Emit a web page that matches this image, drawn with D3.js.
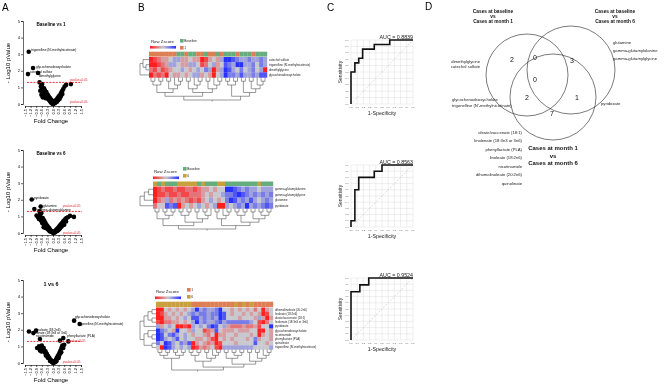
<!DOCTYPE html>
<html>
<head>
<meta charset="utf-8">
<script src="https://cdn.jsdelivr.net/npm/d3@7"></script>
<style>
body { margin: 0; background: #fff; }
#wrap { position: relative; width: 669px; height: 388px; }
#wrap svg { position: absolute; left: 0; top: 0; }
#textLayer { filter: grayscale(100%); }
svg text { font-family: "Liberation Sans", Arial, sans-serif; }
</style>
</head>
<body>
<div id="wrap"></div>
<script>
// ---------- data ----------

// Panel A: volcano plots (fold change, -log10 p)
var fcTicks = [-1.5, -1.2, -0.9, -0.6, -0.3, 0.0, 0.3, 0.6, 0.9, 1.2, 1.5];
var pTicks = [0, 1, 2, 3, 4, 5];

var fc1 = [-1.3, -1.07, -1.34, -0.8, 0.96, -0.72, -0.65, -0.6, -0.68, -0.55, -0.5, -0.45, -0.4, -0.35, -0.3, -0.25, -0.2, -0.15, -0.1, -0.05, 0.0, 0.05, 0.1, 0.15, 0.2, 0.25, 0.3, 0.35, 0.4, 0.45, 0.5, 0.55, -0.58, -0.48, -0.38, 0.62, 0.7, 0.02, -0.02,
           -0.6, -0.5, -0.42, -0.35, -0.28, -0.22, -0.15, -0.1, -0.3, -0.2, -0.12, -0.06, 0.06, 0.12, 0.18, 0.24, 0.3, 0.1, 0.2, 0.28, 0.36, 0.42, 0.5, -0.4, -0.52, 0.0, 0.08, -0.08, -0.62, -0.55];
var lp1 = [3.15, 2.17, 1.8, 1.87, 1.2, 1.3, 1.05, 0.9, 0.8, 0.7, 0.75, 0.6, 0.55, 0.45, 0.35, 0.3, 0.22, 0.15, 0.08, 0.04, 0.02, 0.04, 0.08, 0.15, 0.22, 0.3, 0.38, 0.5, 0.58, 0.7, 0.8, 0.9, 1.2, 0.95, 0.72, 1.05, 1.15, 0.01, 0.03,
           1.0, 0.9, 0.8, 0.7, 0.55, 0.45, 0.35, 0.25, 0.45, 0.3, 0.15, 0.1, 0.1, 0.15, 0.25, 0.35, 0.45, 0.05, 0.12, 0.22, 0.32, 0.45, 0.6, 0.35, 0.6, 0.08, 0.2, 0.18, 0.55, 0.4];

var fc2 = [-1.14, -1.0, -0.66, -0.72, -0.88, -0.8, -0.7, -0.62, -0.55, -0.5, -0.45, -0.4, -0.35, -0.3, -0.25, -0.2, -0.15, -0.1, -0.05, 0, 0.05, 0.1, 0.15, 0.2, 0.25, 0.3, 0.35, 0.4, 0.45, 0.5, 0.55, 0.6, 0.65, 0.72, 0.8, 0.91, 1.12, -0.58, -0.48, 0.02,
           -0.75, -0.65, -0.55, -0.45, -0.38, -0.3, -0.22, -0.15, -0.4, -0.28, -0.18, -0.08, 0.08, 0.15, 0.22, 0.3, 0.38, 0.45, 0.12, 0.25, 0.35, 0.5, 0.6, -0.5, 0.0, -0.05, 0.7, -0.68];
var lp2 = [2.02, 1.45, 1.59, 1.3, 1.05, 0.95, 1.1, 1.2, 0.9, 0.8, 0.7, 0.6, 0.5, 0.42, 0.35, 0.28, 0.2, 0.12, 0.06, 0.02, 0.05, 0.1, 0.16, 0.22, 0.28, 0.35, 0.42, 0.5, 0.55, 0.62, 0.7, 0.75, 0.82, 0.9, 0.95, 1.03, 0.97, 0.6, 0.45, 0.01,
           0.85, 0.75, 0.65, 0.5, 0.4, 0.3, 0.2, 0.12, 0.3, 0.22, 0.1, 0.08, 0.05, 0.1, 0.12, 0.2, 0.3, 0.38, 0.04, 0.15, 0.25, 0.45, 0.5, 0.35, 0.06, 0.1, 0.7, 1.0];

var fc3 = [1.13, 1.43, -1.29, -1.05, -0.91, -0.7, 0.55, 0.375, 0.82, -0.85, -0.75, -0.68, -0.6, -0.55, -0.5, -0.45, -0.4, -0.35, -0.3, -0.25, -0.2, -0.15, -0.1, -0.05, 0, 0.05, 0.1, 0.15, 0.2, 0.25, 0.3, 0.35, 0.4, 0.45, 0.5, -0.62, -0.5, 0.02,
           -0.58, -0.48, -0.4, -0.33, -0.26, -0.2, -0.12, -0.38, -0.28, -0.16, 0.08, 0.14, 0.2, 0.26, 0.32, 0.38, 0.44, 0.1, 0.18, 0.3, 0.55, -0.08, 0.0, 0.6, -0.7];
var lp3 = [2.55, 2.35, 1.9, 1.8, 1.95, 1.45, 1.5, 1.35, 1.3, 0.9, 1.0, 0.85, 1.05, 0.8, 0.9, 0.65, 0.6, 0.5, 0.42, 0.35, 0.28, 0.2, 0.12, 0.06, 0.02, 0.06, 0.12, 0.2, 0.3, 0.4, 0.5, 0.62, 0.75, 0.9, 1.05, 0.7, 0.72, 0.01,
           0.95, 0.78, 0.7, 0.55, 0.42, 0.3, 0.18, 0.45, 0.32, 0.12, 0.08, 0.15, 0.22, 0.32, 0.42, 0.55, 0.65, 0.04, 0.1, 0.3, 0.9, 0.1, 0.05, 1.1, 0.75];

// Panel B: heatmaps (row z-scores, column groups, names)
var h1Rows = ["catechol sulfate", "trigonelline (N'-methylnicotinate)", "dimethylglycine", "glycochenodeoxycholate"];
var h1Groups = "1111111BB1BB11B11B1BBB1BBB1BBB".split("");
var h1Values = [
  [2, 1.5, 1, 0.5, 0.5, 0, -0.5, -0.5, 0.5, 0.5, 0, 0.5, 0.5, 2, 1.5, 0.5, 0, 0.5, -0.5, -2, -2, -1.5, -1, -0.5, -0.5, -1, -0.5, -0.5, -1, -0.5],
  [2, 2, 1.5, 1, 0.5, -0.5, -0.5, 0, 0.5, 0.5, -0.5, -0.5, 0, 1.5, 1, 0, -0.5, 0.5, 0, -1.5, -1, -0.5, -2, -2, -0.5, -0.5, -1, 0, -1, -0.5],
  [1, 1.5, 0.5, 1.5, 1, 0.5, 0, 0, -0.5, 0, 0.5, 0, -0.5, 0, -1, -0.5, 2, 0.5, -0.5, -2, -1.5, -0.5, 0, -1, 0, -0.5, -1, 0, -0.5, 2],
  [2, 1, 1.5, 1, 2, 0, 0.5, 0.5, 0, 0.5, 0, -0.5, -0.5, 0.5, 0, 0.5, 2, 0, -0.5, -2, -1, -1, -0.5, -1.5, -0.5, -0.5, -1, -0.5, -1.5, -1.5]
];
var h1ColTree = [[[[[0, 1], [2, 3]], [[4, 5], [6, [7, 8]]]], [[[9, 10], [11, [12, 13]]], [[14, 15], [16, [17, 18]]]]],
                 [[[19, 20], [21, 22]], [[23, 24], [[25, 26], [27, [28, 29]]]]]];
var h1RowTree = [[0, [1, 2]], 3];

var h2Rows = ["gamma-glutamylalanine", "gamma-glutamylglycine", "glutamine", "pyridoxate"];
var h2Groups = "6B6BBB66666B6BBB66BBBBBBBB6BBB".split("");
var h2Values = [
  [2, 1.5, 1, 1.5, 1.5, 1, 1.5, 1.5, 1, 1, 1.5, 1, 0.5, 0.5, 0, 0.5, 0, 0, -2, -2, -1.5, -1, -0.5, -1, -0.5, -0.5, 0, -0.5, -0.5, -0.5],
  [2, 1.5, 1.5, 1, 1.5, 1.5, 1, 1.5, 1.5, 1, 1, 1, 0.5, 0, 0.5, 0, 0, -0.5, -1, -1, -1.5, -2, -1.5, -1, -0.5, -1, -0.5, -1, -0.5, -1],
  [2, 1, 0.5, -0.5, 1, 0.5, 1, 0.5, 1, 1.5, 1, 1.5, 0.5, 0, -0.5, 0, 0.5, 0, -1, -2, -1.5, -0.5, -1, -0.5, -1.5, -0.5, 0, -0.5, -1, -0.5],
  [1, 0, 0, -1.5, -1, -1.5, 2, 0.5, 0, 0.5, 0, -0.5, 0, 0.5, 0, -0.5, 2, 2, -0.5, 0, -0.5, -1, -0.5, -2, -0.5, -1, -0.5, -1, -1.5, -1]
];
var h2ColTree = [[[[0, 1], [[2, 3], [4, 5]]], [[[6, 7], [8, 9]], [[10, 11], [[12, 13], 14]]]],
                 [[[15, 16], [17, [18, 19]]], [[[20, 21], [22, 23]], [[24, 25], [[26, 27], [28, 29]]]]]];
var h2RowTree = [[[0, 1], 2], 3];

var h3Rows = ["dihomolinoleate (20:2n6)", "linoleate (18:2n6)", "oleate/vaccenate (18:1)", "linolenate (18:3n3 or 3n6)", "pyridoxate",
              "glycochenodeoxycholate", "nicotinamide", "phenyllactate (PLA)", "quinolinate", "trigonelline (N'-methylnicotinate)"];
var h3Groups = "666666666111111111116161611111".split("");
var h3Values = [
  [2, 2, 0, 0.5, 0, 0.5, 0, 0.5, 0, -0.5, -2, -0.5, -1, -0.5, -0.5, -1, -2, 0, 0, 0.5, 0, 0.5, 0, 0.5, 0, 1, 0, 2, 0.5, 0],
  [2, 1.5, 0.5, 0, 0.5, 0, 0.5, 0, -0.5, -1, -0.5, -1, -1, -0.5, -1, -1, -2, -1.5, 0, 0.5, 0, 0, 0.5, 0, 0.5, 0, 0.5, 2, 1.5, 0],
  [2, 2, 0.5, 0.5, 0, 0.5, 0, -0.5, 0, -1.5, -1.5, -0.5, -1, -0.5, -1, -0.5, -2, -1.5, 0, 0, 0, 0.5, 0, 0, 0, 0.5, -0.5, 0.5, 2, 0.5],
  [1.5, 2, 1, 1, 0.5, 0.5, 0, 0.5, 0, -0.5, -2, -0.5, -1, -0.5, -0.5, -1, -1.5, -0.5, -1, -1, -1, -1, -1, -1, -0.5, 0, 1.5, 2, 1, 0],
  [-0.5, 0.5, 0, -0.5, 0, 2, 2, 1.5, 2, -0.5, 0, -0.5, 0, -1, -2, -1.5, 0, -0.5, 0.5, 1, 1, 1, 0.5, 1, 1, 0.5, 1.5, 0, 0, -2],
  [-2, -1, -0.5, 0, 0.5, -2, 0, 0, 0.5, -0.5, 0, 0, 1.5, 1, 0.5, -1.5, 0, 0.5, 0.5, 0.5, 0, 0.5, 0.5, 0.5, 0, 0, 2, 2, 0, 0.5],
  [-2, -1.5, 0, -1, -1.5, -0.5, 0, -0.5, 0, 0.5, 0, 0, 0.5, 1, 0, 2, 0.5, 0.5, 0, 0, 0.5, 0, 0, 0, 0.5, 0, 2, 0.5, 0, 0.5],
  [-2, -1.5, -0.5, 0, -0.5, -1.5, 0, -0.5, 0, 0, 0.5, 0.5, 0, 0.5, 1.5, 2, 0, 0.5, 0, 0.5, 0, 0, 0, 0.5, 0, -1, 0.5, 0, 0, 0.5],
  [-1, 0, -2, -1.5, -0.5, 0, -1, -0.5, -1.5, 2, 0.5, 0, 0.5, 1, 0.5, 2, 1.5, 0, 0, 0, 0.5, 0, 0, 0, 0, -1.5, 0, 0, 0.5, 0],
  [0, 2, -2, -1.5, -0.5, 0, -0.5, 0, -0.5, 2, 1.5, 0.5, 1, 0.5, 0, 1.5, 2, -0.5, -0.5, -0.5, -0.5, -0.5, -0.5, -0.5, -0.5, 0, 0, 0, 0, -0.5]
];
var h3ColTree = [[[[0, 1], [2, 3]], [[4, 5], [6, 7]]],
                 [[[[8, 9], [10, 11]], [[12, 13], [14, [15, 16]]]], [[[17, 18], [[19, 20], [21, 22]]], [[23, 24], [[25, 26], [27, [28, 29]]]]]]];
var h3RowTree = [[[[0, 1], [2, 3]], 4], [[5, [6, 7]], [8, 9]]];

// Panel C: ROC curves
var rocTicks = [0, 0.1, 0.2, 0.3, 0.4, 0.5, 0.6, 0.7, 0.8, 0.9, 1.0];
var roc1X = [0, 0, 0.0625, 0.0625, 0.125, 0.125, 0.1875, 0.1875, 0.375, 0.375, 0.625, 0.625, 1];
var roc1Y = [0, 0.5, 0.5, 0.643, 0.643, 0.714, 0.714, 0.857, 0.857, 0.929, 0.929, 1, 1];
var roc2X = [0, 0, 0.0625, 0.0625, 0.125, 0.125, 0.375, 0.375, 0.5, 0.5, 1];
var roc2Y = [0, 0.1, 0.1, 0.6, 0.6, 0.8, 0.8, 0.9, 0.9, 1, 1];
var roc3X = [0, 0, 0.143, 0.143, 0.286, 0.286, 1];
var roc3Y = [0, 0.778, 0.778, 0.889, 0.889, 1, 1];
var aucLabels = ["AUC = 0.8839", "AUC = 0.8563", "AUC = 0.9524"];

// Panel D: Venn diagram
var vennTitles = [["Cases at baseline", "vs", "Cases at month 1"], ["Cases at baseline", "vs", "Cases at month 6"], ["Cases at month 1", "vs", "Cases at month 6"]];
var vennCounts = [2, 0, 3, 0, 2, 1, 7]; // L, L&R, R, all, L&B, R&B, B
var vennLeftOnly = ["dimethylglycine", "catechol sulfate"];
var vennRightOnly = ["glutamine", "gamma-glutamylalanine", "gamma-glutamylglycine"];
var vennLeftBottom = ["glycochenodeoxycholate", "trigonelline (N'-methylnicotinate)"];
var vennRightBottom = ["pyridoxate"];
var vennBottomOnly = ["oleate/vaccenate (18:1)", "linolenate (18:3n3 or 3n6)", "phenyllactate (PLA)", "linoleate (18:2n6)", "nicotinamide", "dihomolinoleate (20:2n6)", "quinolinate"];

// ---------- drawing ----------
var w = 669, h = 388;
var wrap = d3.select("#wrap");
var svg = wrap.append("svg").attr("width", w).attr("height", h);
svg.append("rect").attr("width", w).attr("height", h).attr("fill", "#fff");
// black text goes on a transparent grey-filtered layer on top
var tl = wrap.append("svg").attr("id", "textLayer").attr("width", w).attr("height", h);

function txt(x, y, s, size, anchor, color, weight) {
  var layer = color === "#e8202a" ? svg : tl;   // red labels stay in colour
  return layer.append("text").attr("x", x).attr("y", y).attr("font-size", size)
    .attr("text-anchor", anchor || "start").attr("dominant-baseline", "central")
    .attr("fill", color || "#000").attr("font-weight", weight || "normal").text(s);
}
function vtxt(x, y, s, size, anchor, color) {
  return tl.append("text").attr("transform", "translate(" + x + "," + y + ") rotate(-90)")
    .attr("font-size", size).attr("text-anchor", anchor || "middle").attr("dominant-baseline", "central")
    .attr("fill", color || "#000").text(s);
}

// panel letters
[["A", 2, 11], ["B", 138, 11], ["C", 327, 11], ["D", 425, 10]].forEach(function(p) {
  tl.append("text").attr("x", p[1]).attr("y", p[2]).attr("font-size", 10).text(p[0]);
});

// ---- A: volcano ----
function volcano(top, title, titleSize, fc, lp, labels, redY) {
  var g = svg.append("g");
  var x = d3.scaleLinear().domain([-1.5, 1.5]).range([25, 81]);
  var y = d3.scaleLinear().domain([0, 5]).range([top + 83, top]);

  var ya = g.append("g").attr("transform", "translate(23,0)")
    .call(d3.axisLeft(y).tickValues(pTicks).tickSize(2).tickFormat(""));
  var xa = g.append("g").attr("transform", "translate(0," + (y(0) + 2) + ")")
    .call(d3.axisBottom(x).tickValues(fcTicks).tickSize(2).tickFormat(""));
  [ya, xa].forEach(function(a) {
    a.selectAll("path, line").attr("stroke", "#000").attr("stroke-width", 0.6);
  });
  pTicks.forEach(function(t) { txt(20, y(t), t, 4, "end"); });
  fcTicks.forEach(function(t) { vtxt(x(t), y(0) + 5, d3.format(".1f")(t), 4, "end"); });

  g.selectAll("circle").data(fc).enter().append("circle")
    .attr("cx", function(d) { return x(d); })
    .attr("cy", function(d, i) { return y(lp[i]); })
    .attr("r", 2.3).attr("fill", "#000");

  g.append("line").attr("x1", 27).attr("x2", 82).attr("y1", y(1.3)).attr("y2", y(1.3))
    .attr("stroke", "#e8202a").attr("stroke-width", 0.9).attr("stroke-dasharray", "2,1.2");
  txt(redY[0][0], redY[0][1], "pvalue=0.05", 3.2, "start", "#e8202a");
  txt(redY[1][0], redY[1][1], "pvalue=0.05", 3.2, "start", "#e8202a");

  labels.forEach(function(l) { txt(l[1], l[2], l[0], 3.2); });

  txt(51, top + 3.5, title, titleSize, "middle", "#000", "bold");
  txt(51, y(0) + 17, "Fold Change", 6, "middle");
  vtxt(8, top + 42, "- Log10 pValue", 6);
}

volcano(21, "Baseline vs 1", 4.6, fc1, lp1,
  [["trigonelline (N'-methylnicotinate)", 31, 50], ["glycochenodeoxycholate", 36, 66.5],
   ["catechol sulfate", 30, 72], ["dimethylglycine", 39, 76]],
  [[70, 80], [70, 102]]);
volcano(150, "Baseline vs 6", 4.6, fc2, lp2,
  [["pyridoxate", 34, 198], ["glutamine", 43, 205.5], ["gamma-glutamylalanine", 37, 210]],
  [[63, 205.5], [63, 232.5]]);
volcano(280, "1 vs 6", 5.4, fc3, lp3,
  [["glycochenodeoxycholate", 75, 317], ["trigonelline (N'-methylnicotinate)", 78, 323.5],
   ["linoleate (18:2n6)", 36, 329.5], ["linolenate (18:3n3 or 3n6)", 31, 333], ["nicotinamide", 36, 336],
   ["phenyllactate (PLA)", 67, 336]],
  [[68, 340.5], [63, 362]]);

// ---- B: heatmaps ----
var zColor = d3.scaleLinear().domain([-2, 0, 2]).range(["#2630ff", "#c8c8cf", "#ff1f1f"]);
var groupColor = { "B": "#66ad7d", "1": "#dc7f55", "6": "#c8a13e" };

function colDendro(g, tree, xPos, yTop, depth) {
  var root = d3.hierarchy(tree, function(d) { return Array.isArray(d) ? d : null; });
  var H = root.height;
  root.eachAfter(function(n) {
    if (!n.children) { n.px = xPos(n.data); n.py = yTop; }
    else { n.px = d3.mean(n.children, function(c) { return c.px; }); n.py = yTop + n.height / H * depth; }
  });
  root.each(function(n) {
    if (!n.children) return;
    var a = n.children[0], b = n.children[n.children.length - 1];
    g.append("path").attr("d", "M" + a.px + "," + a.py + "V" + n.py + "H" + b.px + "V" + b.py)
      .attr("fill", "none").attr("stroke", "#555").attr("stroke-width", 0.6);
  });
  g.append("line").attr("x1", root.px).attr("x2", root.px).attr("y1", root.py).attr("y2", root.py + 1.5)
    .attr("stroke", "#555").attr("stroke-width", 0.6);
}

function rowDendro(g, tree, yPos, xRight, depth) {
  var root = d3.hierarchy(tree, function(d) { return Array.isArray(d) ? d : null; });
  var H = root.height;
  root.eachAfter(function(n) {
    if (!n.children) { n.py = yPos(n.data); n.px = xRight; }
    else { n.py = d3.mean(n.children, function(c) { return c.py; }); n.px = xRight - n.height / H * depth; }
  });
  root.each(function(n) {
    if (!n.children) return;
    var a = n.children[0], b = n.children[n.children.length - 1];
    g.append("path").attr("d", "M" + a.px + "," + a.py + "H" + n.px + "V" + b.py + "H" + b.px)
      .attr("fill", "none").attr("stroke", "#555").attr("stroke-width", 0.6);
  });
}

function heatmap(o) {
  var g = svg.append("g");
  var nc = o.values[0].length;
  var x = d3.scaleBand().domain(d3.range(nc)).range([o.x0, o.x1]);
  var y = d3.scaleBand().domain(d3.range(o.values.length)).range([o.y0, o.y1]);

  // column annotation
  g.selectAll(".ann").data(o.groups).enter().append("rect")
    .attr("x", function(d, i) { return x(i); }).attr("y", o.annY)
    .attr("width", x.bandwidth() + 0.2).attr("height", o.y0 - o.annY - 0.4)
    .attr("fill", function(d) { return groupColor[d]; });

  o.values.forEach(function(row, r) {
    g.selectAll(".c" + r).data(row).enter().append("rect")
      .attr("x", function(d, i) { return x(i); }).attr("y", y(r))
      .attr("width", x.bandwidth() + 0.2).attr("height", y.bandwidth() + 0.2)
      .attr("fill", function(d) { return zColor(d); });
  });

  o.rows.forEach(function(d, i) { txt(o.x1 + 2, y(i) + y.bandwidth() / 2, d, 2.9, "start", "#222"); });

  colDendro(g, o.colTree, function(i) { return x(i) + x.bandwidth() / 2; }, o.y1, o.dBottom - o.y1);
  rowDendro(g, o.rowTree, function(i) { return y(i) + y.bandwidth() / 2; }, o.x0, o.x0 - 140);

  // colour key
  var gid = "grad" + o.y0;
  var grad = svg.append("defs").append("linearGradient").attr("id", gid);
  grad.append("stop").attr("offset", "0%").attr("stop-color", zColor(2));
  grad.append("stop").attr("offset", "50%").attr("stop-color", zColor(0));
  grad.append("stop").attr("offset", "100%").attr("stop-color", zColor(-2));
  txt(o.keyX + 1, o.keyY - 5, "Row Zscore", 4.3, "start", "#222");
  g.append("rect").attr("x", o.keyX).attr("y", o.keyY).attr("width", 26).attr("height", 2.6)
    .attr("fill", "url(#" + gid + ")");
  [0, 13, 26].forEach(function(t) {
    g.append("line").attr("x1", o.keyX + t).attr("x2", o.keyX + t).attr("y1", o.keyY - 0.8).attr("y2", o.keyY)
      .attr("stroke", "#666").attr("stroke-width", 0.3);
  });
  o.legend.forEach(function(l, i) {
    g.append("rect").attr("x", o.legX).attr("y", o.legY + i * 7).attr("width", 3.6).attr("height", 3.6)
      .attr("fill", groupColor[l[0]]);
    txt(o.legX + 4.2, o.legY + i * 7 + 1.8, l[1], 3.3, "start", "#222");
  });
}

heatmap({ values: h1Values, groups: h1Groups, rows: h1Rows, colTree: h1ColTree, rowTree: h1RowTree,
  x0: 149, x1: 267, annY: 51.7, y0: 57, y1: 77.5, dBottom: 100,
  keyX: 150, keyY: 46, legX: 180, legY: 39, legend: [["B", "Baseline"], ["1", "1"]] });
heatmap({ values: h2Values, groups: h2Groups, rows: h2Rows, colTree: h2ColTree, rowTree: h2RowTree,
  x0: 153, x1: 273, annY: 181.5, y0: 186.5, y1: 208.5, dBottom: 229,
  keyX: 153, keyY: 176.5, legX: 183, legY: 167, legend: [["B", "Baseline"], ["6", "6"]] });
heatmap({ values: h3Values, groups: h3Groups, rows: h3Rows, colTree: h3ColTree, rowTree: h3RowTree,
  x0: 156, x1: 273, annY: 301.7, y0: 307.5, y1: 349.5, dBottom: 370,
  keyX: 155, keyY: 296.5, legX: 187, legY: 288, legend: [["1", "1"], ["6", "6"]] });

// ---- C: ROC ----
function roc(top, bottom, fx, ty, auc) {
  var g = svg.append("g");
  var x = d3.scaleLinear().domain([0, 1]).range([351, 413]);
  var y = d3.scaleLinear().domain([0, 1]).range([bottom, top]);

  rocTicks.forEach(function(t) {
    g.append("line").attr("x1", x(t)).attr("x2", x(t)).attr("y1", y(0)).attr("y2", y(1))
      .attr("stroke", "#d4d4d4").attr("stroke-width", 0.4);
    g.append("line").attr("x1", x(0)).attr("x2", x(1)).attr("y1", y(t)).attr("y2", y(t))
      .attr("stroke", "#d4d4d4").attr("stroke-width", 0.4);
    txt(x(t), y(0) + 3.5, d3.format(".1f")(t), 2.4, "middle", "#555");
    txt(x(0) - 2.5, y(t), d3.format(".1f")(t), 2.4, "end", "#555");
  });
  g.append("line").attr("x1", x(0)).attr("y1", y(0)).attr("x2", x(1)).attr("y2", y(1))
    .attr("stroke", "#bbb").attr("stroke-width", 0.7).attr("stroke-dasharray", "1,1.5");

  var line = d3.line().x(function(d) { return x(d[0]); }).y(function(d) { return y(d[1]); });
  g.append("path").datum(fx.map(function(v, i) { return [v, ty[i]]; }))
    .attr("d", line).attr("fill", "none").attr("stroke", "#111").attr("stroke-width", 1.6)
    .attr("stroke-linejoin", "miter");

  txt(413, top - 3.5, auc, 5.3, "end", "#222");
  txt(382, bottom + 8.5, "1-Specificity", 5.3, "middle", "#222");
  vtxt(340, (top + bottom) / 2, "Sensitivity", 5, "middle", "#222");
}
roc(40, 104, roc1X, roc1Y, aucLabels[0]);
roc(165, 227, roc2X, roc2Y, aucLabels[1]);
roc(278, 340, roc3X, roc3Y, aucLabels[2]);

// ---- D: Venn ----
var gv = svg.append("g");
[[527, 75, 41], [571, 70, 44], [553, 97, 43]].forEach(function(c) {
  gv.append("circle").attr("cx", c[0]).attr("cy", c[1]).attr("r", c[2])
    .attr("fill", "none").attr("stroke", "#222").attr("stroke-width", 0.6);
});
var countPos = [[512, 59.5], [535, 57.5], [572, 60], [535, 79.5], [527, 97], [577, 97.5], [552, 113]];
vennCounts.forEach(function(c, i) { txt(countPos[i][0], countPos[i][1], c, 7, "middle", "#111"); });

vennTitles[0].forEach(function(s, i) { txt(493, 11 + i * 5, s, 4.8, "middle", "#111", "bold"); });
vennTitles[1].forEach(function(s, i) { txt(615, 11 + i * 5, s, 4.8, "middle", "#111", "bold"); });
vennTitles[2].forEach(function(s, i) { txt(553, 148 + i * 7.5, s, 6, "middle", "#111", "bold"); });

vennLeftOnly.forEach(function(s, i) { txt(480, 61 + i * 5.8, s, 4.2, "end", "#222"); });
vennRightOnly.forEach(function(s, i) { txt(613, 42 + i * 8.3, s, 4.2, "start", "#222"); });
vennLeftBottom.forEach(function(s, i) { txt(452, 99.3 + i * 6, s, 4.2, "start", "#222"); });
vennRightBottom.forEach(function(s) { txt(601, 103.3, s, 4.2, "start", "#222"); });
vennBottomOnly.forEach(function(s, i) { txt(522, 132.3 + i * 8.5, s, 4.2, "end", "#222"); });
</script>
</body>
</html>
